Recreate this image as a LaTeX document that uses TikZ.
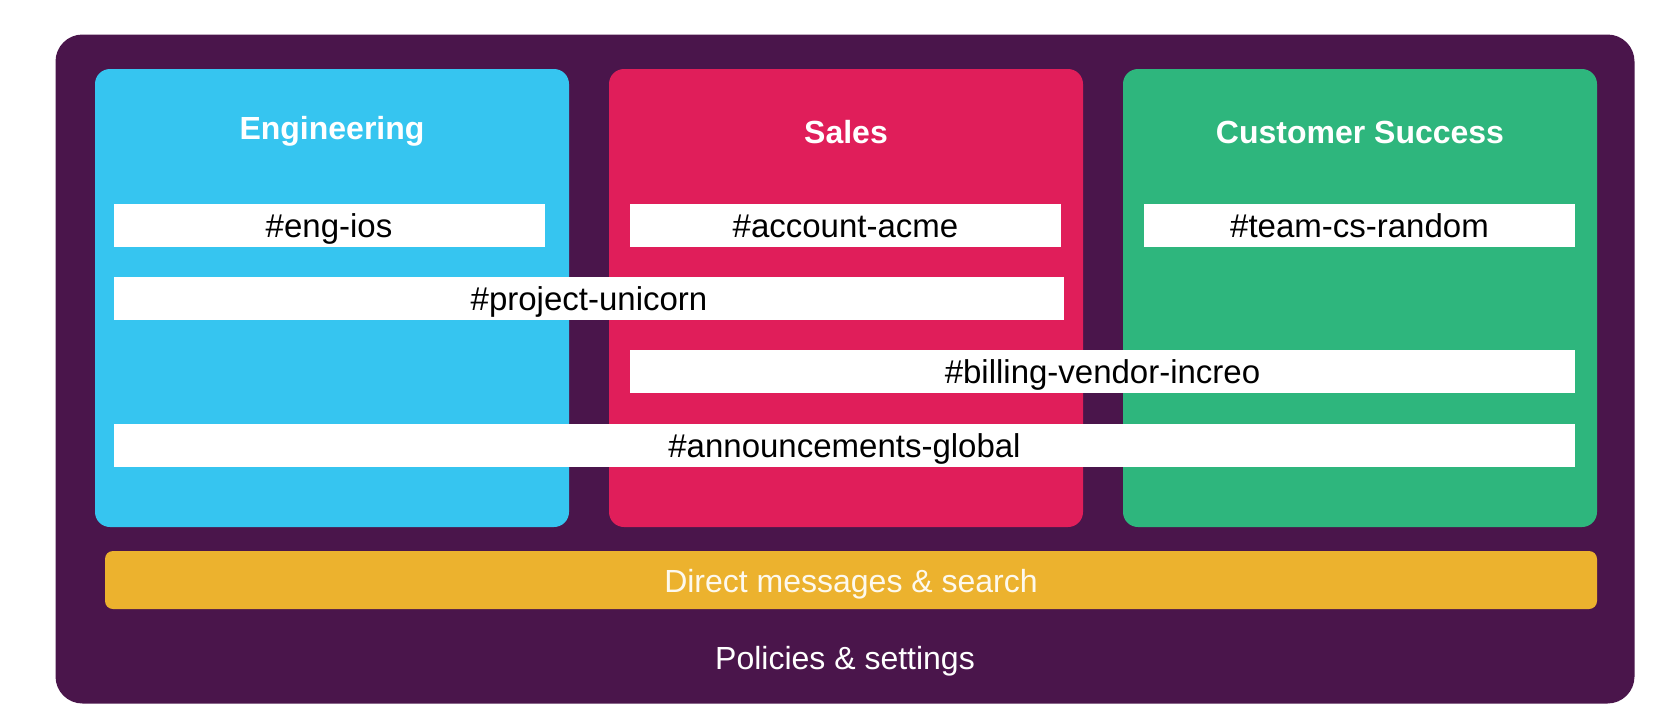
\documentclass[tikz,border=0pt]{standalone}
\usepackage{fontspec}
\setmainfont{Liberation Sans}
\usepackage{tikz}
\usetikzlibrary{positioning}
\definecolor{aubergine}{HTML}{4A154B}
\definecolor{slackblue}{HTML}{36C5F0}
\definecolor{slackred}{HTML}{E01E5A}
\definecolor{slackgreen}{HTML}{2EB67D}
\definecolor{slackyellow}{HTML}{ECB22E}

\begin{document}
\begin{tikzpicture}[
            x=1pt,y=-1pt,
            every node/.style={inner sep=0pt,text height=25pt,text depth=1pt,font=\fontsize{32}{38}\selectfont},
            team/.style={rounded corners=15pt,minimum width=474pt,minimum height=458pt},
            title/.style={text=white,font=\fontsize{32}{38}\selectfont\bfseries},
            channel/.style={fill=white,minimum height=43pt,text=black,font=\fontsize{33}{40}\selectfont}
        ]
        \useasboundingbox (0,0) rectangle (1680,726);

        % Draw workspace %
        \node[fill=aubergine,rounded corners=27pt,minimum width=1579pt,minimum height=669pt] (ws) at (845,369) {};

        % Draw teams %
        \node[team,fill=slackblue] (eng) at (332,298) {};
        \node[team,fill=slackred] (sales) at (846,298) {};
        \node[team,fill=slackgreen] (cs) at (1360,298) {};
        \node[title] (engname) at (332,127) {Engineering};
        \node[title] (salesname) at (846,131) {Sales};
        \node[title] (csname) at (1360,131) {Customer Success};

        % Draw channels %
        \node[channel,minimum width=431pt] (engios) at (329,225) {\#eng-ios};
        \node[channel,minimum width=431pt] (acme) at (845.5,225) {\#account-acme};
        \node[channel,minimum width=431pt] (csrandom) at (1359.5,225) {\#team-cs-random};
        \node[channel,minimum width=950pt] (unicorn) at (589,298) {\#project-unicorn};
        \node[channel,minimum width=945pt] (increo) at (1102.5,371) {\#billing-vendor-increo};
        \node[channel,minimum width=1461pt] (global) at (844.5,445) {\#announcements-global};

        % Draw shared layers %
        \node[fill=slackyellow,rounded corners=8pt,minimum width=1492pt,minimum height=58pt,
              text=white!92!slackyellow] (dm) at (851,580) {Direct messages \& search};
        \node[text=white] (policies) at (845,657) {Policies \& settings};
\end{tikzpicture}
\end{document}
